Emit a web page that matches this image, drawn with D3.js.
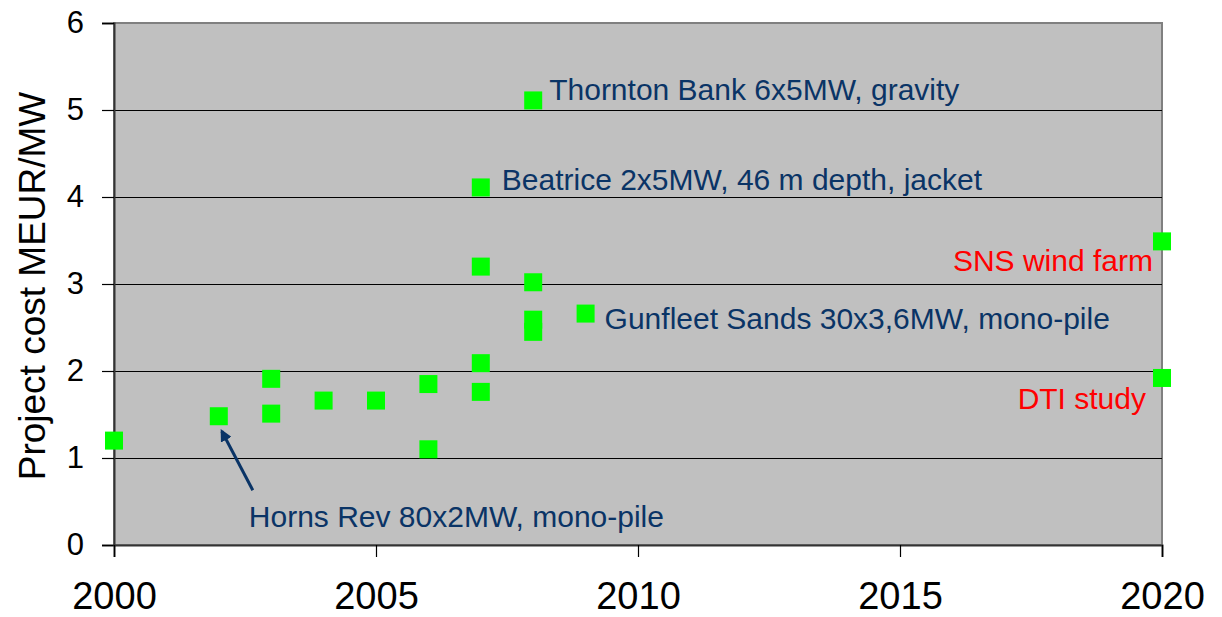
<!DOCTYPE html>
<head>
    <meta charset="utf-8">
    <title>Project cost MEUR/MW</title>
    <style>
        body { margin: 0; background: #fff; }
        text { font-family: "Liberation Sans", Arial, sans-serif; }
        .grid line { stroke: #000; stroke-width: 1; }
        .label { fill: #0a3466; font-size: 30px; }
        .label.red { fill: #ff0000; }
    </style>
    <script src="https://cdn.jsdelivr.net/npm/d3@7/dist/d3.min.js"></script>
</head>
<body>
<svg width="1222" height="617"></svg>
<script>

// offshore wind projects: year, cost per MW
var years = [2000, 2002, 2003, 2003, 2004, 2005, 2006, 2006, 2007, 2007, 2007, 2007, 2008, 2008, 2008, 2008, 2009, 2020, 2020];
var costs = [1.2, 1.48, 1.91, 1.51, 1.66, 1.66, 1.85, 1.1, 4.11, 3.2, 2.09, 1.76, 5.11, 3.02, 2.59, 2.45, 2.66, 3.49, 1.92];

var yTicks = [0, 1, 2, 3, 4, 5, 6];
var xTicks = [2000, 2005, 2010, 2015, 2020];

// annotations: text and the point it belongs to
var labelText = ["Thornton Bank 6x5MW, gravity", "Beatrice 2x5MW, 46 m depth, jacket",
                 "Gunfleet Sands 30x3,6MW, mono-pile", "Horns Rev 80x2MW, mono-pile",
                 "SNS wind farm", "DTI study"];
var labelYear = [2008, 2007, 2009, 2002, 2020, 2020];
var labelCost = [5.11, 4.11, 2.66, 1.48, 3.49, 1.92];

var svg = d3.select("svg"),
    pLeft = 114, pRight = 1162, pTop = 23, pBottom = 545;

var x = d3.scaleLinear().domain([2000, 2020]).range([pLeft, pRight]);
var y = d3.scaleLinear().domain([0, 6]).range([pBottom, pTop]);

svg.append("rect")
    .attr("x", pLeft).attr("y", pTop)
    .attr("width", pRight - pLeft).attr("height", pBottom - pTop)
    .attr("fill", "#c0c0c0")
    .attr("stroke", "#808080")
    .attr("stroke-width", 2);

svg.append("g")
    .attr("class", "grid")
  .selectAll("line")
    .data(yTicks.filter(function(d) { return d > 0 && d < 6; }))
  .enter().append("line")
    .attr("x1", pLeft).attr("x2", pRight)
    .attr("y1", function(d) { return y(d) + 0.5; })
    .attr("y2", function(d) { return y(d) + 0.5; });

// axes
var yAxis = svg.append("g")
    .attr("transform", "translate(" + pLeft + ",0)")
    .call(d3.axisLeft(y).tickValues(yTicks).tickSize(12).tickPadding(18).tickFormat(d3.format("d")));
var xAxis = svg.append("g")
    .attr("transform", "translate(0," + pBottom + ")")
    .call(d3.axisBottom(x).tickValues(xTicks).tickSize(12).tickPadding(25).tickFormat(d3.format("d")));

[yAxis, xAxis].forEach(function(a) {
  a.select(".domain").attr("stroke", "#333").attr("stroke-width", 2);
  a.selectAll(".tick line").attr("stroke", "#000").attr("stroke-width", 1.2);
  a.selectAll("text").attr("fill", "#000").style("font-family", "'Liberation Sans', Arial, sans-serif");
});
yAxis.selectAll("text").style("font-size", "31px");
xAxis.selectAll("text").style("font-size", "38px");

svg.append("text")
    .attr("transform", "translate(45," + ((pTop + pBottom) / 2 + 2) + ") rotate(-90)")
    .attr("text-anchor", "middle")
    .style("font-size", "37px")
    .text("Project cost MEUR/MW");

// markers
var size = 18;
svg.append("g")
  .selectAll("rect")
    .data(d3.range(years.length))
  .enter().append("rect")
    .attr("x", function(i) { return x(years[i]) - size / 2; })
    .attr("y", function(i) { return y(costs[i]) - size / 2; })
    .attr("width", size).attr("height", size)
    .attr("fill", "#00ff00");

// labels
var dx = [16, 21, 19, 30, -9, -16];
var dy = [0, 3, 15, 111, 30, 31];
var anchor = ["start", "start", "start", "start", "end", "end"];

svg.append("g")
  .selectAll("text")
    .data(d3.range(labelText.length))
  .enter().append("text")
    .attr("class", function(i) { return i >= 4 ? "label red" : "label"; })
    .attr("x", function(i) { return x(labelYear[i]) + dx[i]; })
    .attr("y", function(i) { return y(labelCost[i]) + dy[i]; })
    .attr("text-anchor", function(i) { return anchor[i]; })
    .text(function(i) { return labelText[i]; });

// Horns Rev arrow
svg.append("defs").append("marker")
    .attr("id", "head")
    .attr("viewBox", "0 0 10 10")
    .attr("refX", 8).attr("refY", 5)
    .attr("markerWidth", 4).attr("markerHeight", 4)
    .attr("orient", "auto")
  .append("path")
    .attr("d", "M0,0L10,5L0,10z")
    .attr("fill", "#0a3466");

svg.append("line")
    .attr("x1", x(2002) + 34).attr("y1", y(1.48) + 74)
    .attr("x2", x(2002) + 3).attr("y2", y(1.48) + 15)
    .attr("stroke", "#0a3466")
    .attr("stroke-width", 3)
    .attr("marker-end", "url(#head)");

</script>
</body>
